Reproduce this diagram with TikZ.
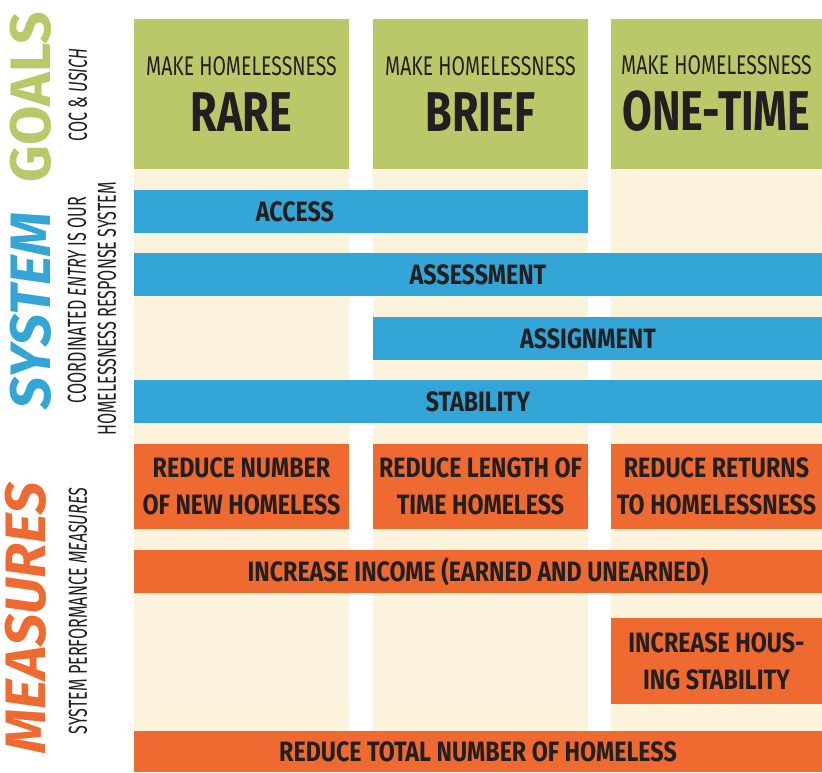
\documentclass[tikz,border=0pt]{standalone}
\usepackage{fontspec}
\usetikzlibrary{positioning}
\setmainfont{Fira Sans}
\newfontfamily\narrowfont[FakeStretch=0.72]{Fira Sans}
\newfontfamily\widebold[FakeStretch=0.83]{Fira Sans}
\newfontfamily\wordfont[FakeStretch=0.77]{Fira Sans}
\newfontfamily\slimfont[FakeStretch=0.62]{Fira Sans}
\newcommand\bigword{\wordfont\fontsize{56}{56}\selectfont\bfseries}
\definecolor{goalgreen}{HTML}{BBC86A}
\definecolor{sysblue}{HTML}{33A5D6}
\definecolor{measorange}{HTML}{EE6A30}
\definecolor{cream}{HTML}{FCF3DC}
\definecolor{ink}{HTML}{231F20}

\begin{document}
\begin{tikzpicture}[x=1pt, y=-1pt, inner sep=0pt, outer sep=0pt, text=ink,
  column/.style={fill=cream, minimum width=215pt, minimum height=712pt},
  goalbox/.style={fill=goalgreen, anchor=north west, minimum width=#1, minimum height=150pt,
    align=center, font=\narrowfont\fontsize{27}{56}\selectfont},
  sysbar/.style={fill=sysblue, anchor=north west, minimum width=#1, minimum height=43pt,
    font=\widebold\bfseries\fontsize{28}{30}\selectfont},
  bartext/.style={font=\widebold\bfseries\fontsize{28}{30}\selectfont},
  measbox/.style={fill=measorange, anchor=north west, minimum width=#1, minimum height=85pt,
    align=center, font=\widebold\bfseries\fontsize{28}{37}\selectfont},
  measbar/.style={fill=measorange, anchor=north west, minimum width=688pt, minimum height=#1,
    font=\widebold\bfseries\fontsize{28}{30}\selectfont},
  sidetitle/.style={rotate=90, text=#1, font=\bfseries\fontsize{57}{57}\selectfont},
  sidenote/.style={rotate=90, font=\slimfont\fontsize{26}{28}\selectfont}]
  \useasboundingbox (0,0) rectangle (822,772);

  % cream columns
  \node[column, anchor=north west] (c1) at (134,19) {};
  \node[column, right=24pt of c1] (c2) {};
  \node[column, right=23pt of c2, minimum width=211pt] (c3) {};

  % goals
  \node[goalbox=215pt] (rare) at (c1.north west) {MAKE HOMELESSNESS\\{\bigword RARE}};
  \node[goalbox=215pt] (brief) at (c2.north west) {MAKE HOMELESSNESS\\{\bigword BRIEF}};
  \node[goalbox=211pt] (onetime) at (c3.north west) {MAKE HOMELESSNESS\\{\bigword ONE-TIME}};

  % system
  \node[sysbar=454pt] (access) at (134,190) {};
  \node[bartext] (accesslbl) at (295,211.5) {ACCESS};
  \node[sysbar=688pt] (assessment) at (134,253) {ASSESSMENT};
  \node[sysbar=449pt] (assignment) at (373,317) {};
  \node[bartext] (assignlbl) at (588,338.5) {ASSIGNMENT};
  \node[sysbar=688pt] (stability) at (134,380) {STABILITY};

  % measures
  \node[measbox=215pt] (newhl) at (134,444) {REDUCE NUMBER\\OF NEW HOMELESS};
  \node[measbox=215pt] (lengthhl) at (373,444) {REDUCE LENGTH OF\\TIME HOMELESS};
  \node[measbox=211pt] (returnhl) at (611,444) {REDUCE RETURNS\\TO HOMELESSNESS};
  \node[measbar=43pt] (income) at (134,550) {INCREASE INCOME (EARNED AND UNEARNED)};
  \node[measbox=211pt, minimum height=86pt] (housing) at (611,618) {INCREASE HOUS-\\ING STABILITY};
  \node[measbar=41pt] (total) at (134,731) {REDUCE TOTAL NUMBER OF HOMELESS};

  % side titles
  \node[sidetitle=goalgreen] (goals) at (31,97) {GOALS};
  \node[sidetitle=sysblue, font=\bfseries\itshape\fontsize{57}{57}\selectfont] (system) at (31,311) {SYSTEM};
  \node[sidetitle=measorange, font=\bfseries\itshape\fontsize{57}{57}\selectfont] (measures) at (26,618) {MEASURES};
  \node[sidenote] (cocnote) at (78,95) {COC \& {\itshape USICH}};
  \node[sidenote] (cenote) at (77,300) {COORDINATED {\itshape ENTRY} IS OUR};
  \node[sidenote] (hrsnote) at (107,309) {HOMELESSNESS RESPONSE SYSTEM};
  \node[sidenote] (spmnote) at (78,611) {SYSTEM PERFORMANCE {\itshape MEASURES}};
\end{tikzpicture}
\end{document}
